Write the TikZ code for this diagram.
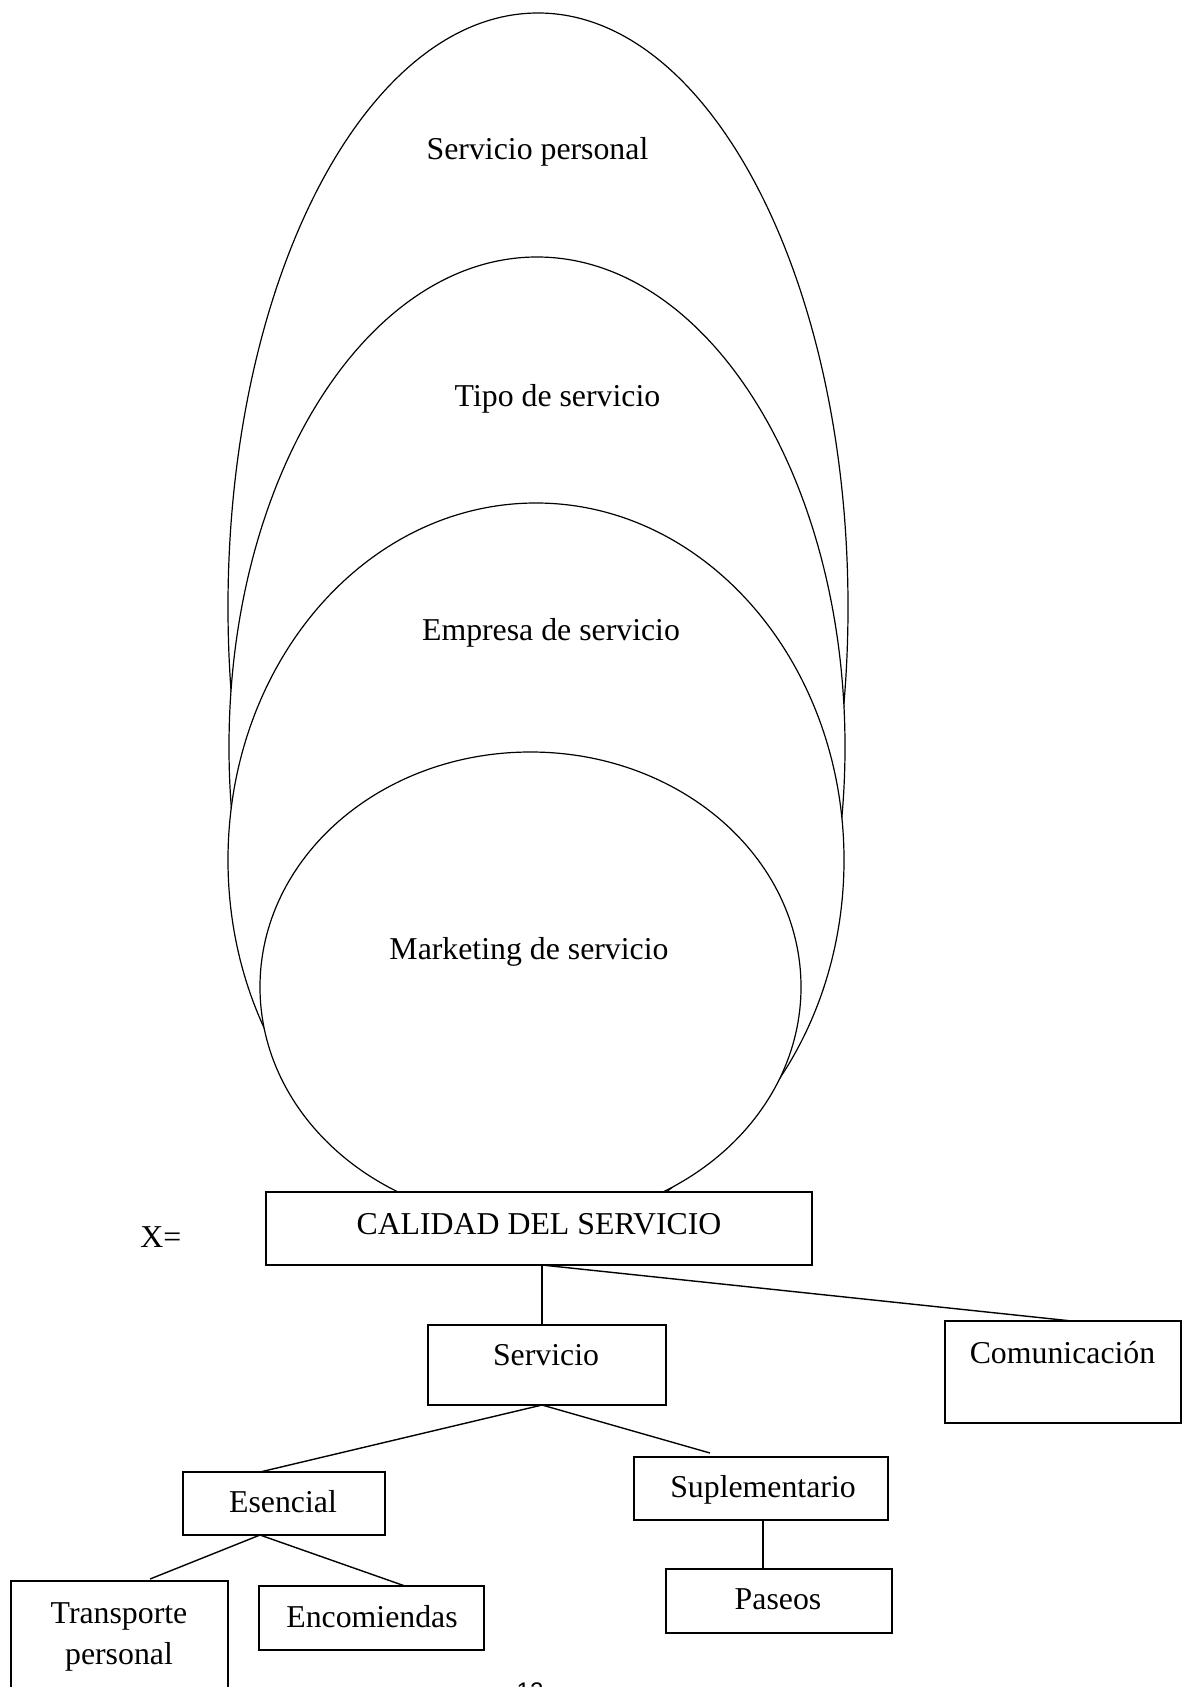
\documentclass[tikz,border=0pt]{standalone}
\usepackage{fontspec}
\setmainfont{Liberation Serif}
\newfontfamily\pagenumfont{Liberation Sans}
\usetikzlibrary{shapes.geometric}
\begin{document}
\begin{tikzpicture}[x=0.5bp, y=-0.5bp,
  bubble/.style={ellipse, draw, fill=white, line width=0.6bp, inner sep=0pt, outer sep=0pt},
  frame/.style={rectangle, draw, fill=white, line width=0.9bp, inner sep=0pt, outer sep=0pt},
  txt/.style={anchor=base, inner sep=0pt, font=\fontsize{15.9bp}{19bp}\selectfont},
  link/.style={line width=0.7bp}]
\useasboundingbox (0,0) rectangle (1190,1687);
\fill[white] (0,0) rectangle (1190,1687);

% nested white ellipses, the lower parts end at the top of the main box
\begin{scope}
  \clip (0,0) rectangle (1190,1192);
  \node[bubble, minimum width=310bp, minimum height=594bp] (personal) at (538,607) {};
  \node[bubble, minimum width=308bp, minimum height=490bp] (tipo) at (537,747) {};
  \node[bubble, minimum width=308bp, minimum height=357bp] (empresa) at (536,860) {};
  \node[bubble, minimum width=270.5bp, minimum height=235bp] (marketing) at (530.5,987) {};
\end{scope}

\node[txt] (tpersonal) at (537.5,159) {Servicio personal};
\node[txt] (ttipo) at (557.5,406) {Tipo de servicio};
\node[txt] (tempresa) at (551,640) {Empresa de servicio};
\node[txt] (tmarketing) at (529,959) {Marketing de servicio};

% tree of boxes
\node[frame, minimum width=273bp, minimum height=36.5bp] (cal) at (539,1228.5) {};
\node[txt] (tcal) at (539,1234) {CALIDAD DEL SERVICIO};
\node[txt, anchor=base west] (tx) at (140,1247) {X=};

\node[frame, minimum width=119bp, minimum height=40bp] (serv) at (547,1365) {};
\node[txt] (tserv) at (546,1365) {Servicio};

\node[frame, minimum width=118bp, minimum height=51bp] (com) at (1063,1372) {};
\node[txt] (tcom) at (1062.5,1363) {Comunicación};

\node[frame, minimum width=101bp, minimum height=31.5bp] (esen) at (284,1503.5) {};
\node[txt] (tesen) at (283,1512) {Esencial};

\node[frame, minimum width=127bp, minimum height=31.5bp] (supl) at (761,1488.5) {};
\node[txt] (tsupl) at (763,1497) {Suplementario};

\node[frame, minimum width=108.5bp, minimum height=64.5bp] (trans) at (119.5,1645.5) {};
\node[txt] (ttrans1) at (119,1623) {Transporte};
\node[txt] (ttrans2) at (119,1664) {personal};

\node[frame, minimum width=112.5bp, minimum height=32bp] (enco) at (371.5,1618) {};
\node[txt] (tenco) at (372,1627) {Encomiendas};

\node[frame, minimum width=113bp, minimum height=32bp] (pas) at (779,1601) {};
\node[txt] (tpas) at (778,1609) {Paseos};

% connectors
\coordinate (suplend) at (710,1453);
\coordinate (transend) at (150,1579);
\draw[link] ([xshift=1.5bp]cal.south) -- ([xshift=1.5bp]cal.south |- serv.north);
\draw[link] ([xshift=1.5bp]cal.south) -- ([xshift=4.5bp]com.north);
\draw[link] ([xshift=-2.5bp]serv.south) -- ([xshift=-12bp]esen.north);
\draw[link] ([xshift=-2.5bp]serv.south) -- (suplend);
\draw[link] ([xshift=1bp]supl.south) -- ([xshift=1bp]supl.south |- pas.north);
\draw[link] ([xshift=-12bp]esen.south) -- (transend);
\draw[link] ([xshift=-12bp]esen.south) -- ([xshift=16.75bp]enco.north);

% page number at the foot
\node[anchor=base, inner sep=0pt, font=\pagenumfont\fontsize{12bp}{14bp}\selectfont] (pagenum) at (530,1699) {12};
\end{tikzpicture}
\end{document}
